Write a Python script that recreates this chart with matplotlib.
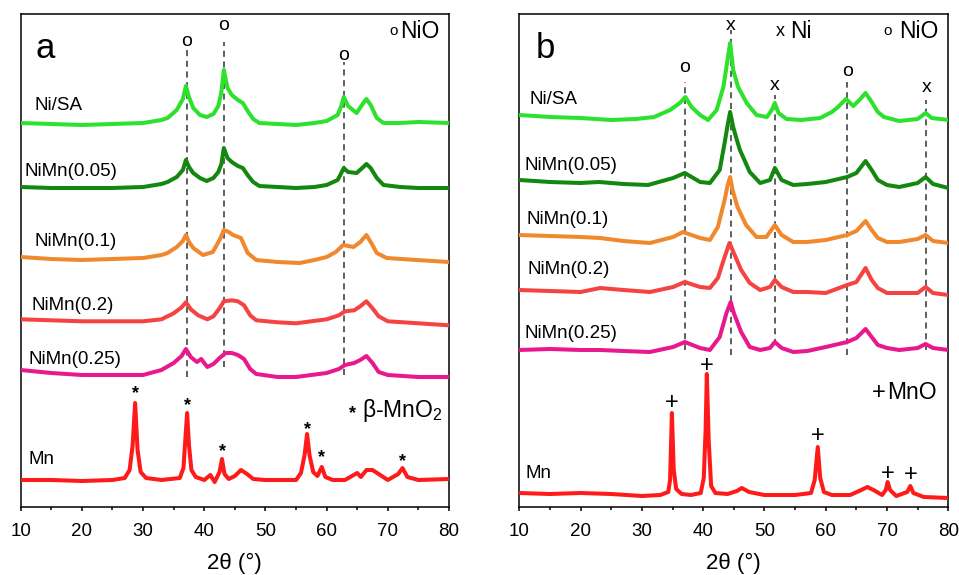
import matplotlib
matplotlib.use("Agg")
import matplotlib.pyplot as plt
import numpy as np
from matplotlib.ticker import MultipleLocator

plt.rcParams['font.family'] = ['Liberation Sans', 'DejaVu Sans']

# ---------------- data (2theta in degrees, intensity in a.u. above each pattern's baseline) -------------
labels = ["Ni/SA", "NiMn(0.05)", "NiMn(0.1)", "NiMn(0.2)", "NiMn(0.25)", "Mn"]

# panel a
a_nisa_x = [10, 15, 20, 25, 30, 33, 34, 35.5, 36.5, 37, 37.5, 38.2, 39.3, 40.4, 41.5, 42.3, 42.8, 43.2, 43.8, 44.5,
            45.5, 46.3, 47.2, 48, 49, 52, 55, 58, 60, 61.8, 62.4, 62.8, 63.5, 64.9, 66, 66.5, 67.2, 68.2, 69.3, 72, 75, 80]
a_nisa_y = [0, -1, -2, -1, 0, 3, 5, 13, 24, 37, 26, 15, 8, 6, 9, 17, 31, 53, 35, 28,
            23, 20, 11, 4, 0, -1, -2, 0, 2, 8, 17, 26, 17, 10, 20, 24, 18, 5, 0, 0, 1, 0]

a_005_x = a_nisa_x
a_005_y = [0, -1, -1, -1, 0, 3, 5, 10, 17, 27, 20, 14, 9, 6, 9, 15, 23, 39, 29, 25,
           21, 19, 11, 5, 1, 0, -1, 0, 2, 7, 14, 19, 15, 14, 20, 23, 19, 9, 2, 0, -1, -1]

a_01_x = [10, 15, 20, 25, 30, 33, 34, 35.5, 36.5, 37, 37.5, 38.2, 39.8, 41.4, 42.5, 43.2, 44, 44.7, 46, 47.1,
          48.5, 52, 55.6, 58, 60, 61.5, 62.7, 64.4, 65.5, 66.5, 67.3, 68.2, 69.8, 74.7, 80]
a_01_y = [0, -2, -3, -2, -1, 2, 4, 10, 16, 22, 15, 9, 2, 5, 17, 27, 25, 22, 19, 4,
          -3, -5, -6, -3, 0, 5, 12, 10, 15, 22, 14, 4, -1, -3, -5]

a_02_x = [10, 20, 30, 33, 35, 36.3, 37, 37.8, 39, 40.5, 41.5, 42.5, 43.2, 44.5, 45.5, 46.5, 47.5, 48.5, 52, 55,
          60, 62, 63, 64.5, 65.5, 66.5, 67.5, 68.5, 70, 75, 80]
a_02_y = [0, -2, -2, 0, 6, 12, 17, 10, 4, 0, 3, 11, 18, 19, 18, 14, 4, -1, -3, -4,
          0, 4, 8, 9, 13, 18, 11, 3, -2, -4, -6]

a_025_x = [10, 15, 20, 25, 30, 33, 35, 36.3, 37, 37.8, 38.8, 39.5, 40.5, 41.5, 42.5, 43.5, 44.5, 45.5, 46.5, 47.5,
           48.5, 52, 55, 60, 62, 63, 64.5, 65.5, 66.5, 67.5, 68.5, 70, 75, 80]
a_025_y = [0, -3, -5, -5, -5, 0, 7, 14, 21, 13, 8, 11, 3, 6, 12, 17, 17, 15, 11, 1,
           -4, -7, -7, -3, 1, 5, 7, 10, 14, 7, -2, -5, -7, -7]

a_mn_x = [10, 15, 20, 25, 27, 27.8, 28.3, 28.7, 29.1, 29.6, 30.5, 33, 36, 36.6, 36.9, 37.2, 37.5, 37.9, 38.6, 40,
          41, 41.7, 42.5, 42.9, 43.3, 44, 45, 46, 47, 48, 50, 55, 55.8, 56.4, 56.8, 57.2, 57.8, 58.5, 59.2, 59.8,
          61, 63, 65, 65.6, 66.5, 67.5, 68.5, 70, 71.7, 72.4, 73.2, 75, 80]
a_mn_y = [0, 0, -1, 0, 2, 10, 35, 77, 30, 8, 2, 0, 2, 12, 40, 67, 35, 10, 3, 0,
          5, -2, 8, 21, 6, 1, 4, 10, 6, 1, 0, 0, 7, 25, 46, 25, 8, 4, 13, 3,
          0, 0, 7, 3, 10, 10, 6, 0, 6, 12, 3, 0, 1]

# panel b
b_nisa_x = [10, 15, 20, 25, 29, 32, 34.6, 36.2, 37.1, 38.1, 39.5, 40.8, 42.2, 43.3, 43.9, 44.4, 44.9, 45.7, 47.1, 48.7,
            50.4, 51.2, 51.7, 52.3, 53.6, 56, 59.1, 61, 62, 63.3, 64.5, 65.5, 66.5, 67.5, 68.5, 69.5, 72, 75, 76.3, 77.3, 80]
b_nisa_y = [0, -2, -3, -5, -4, -2, 5, 12, 18, 8, 0, -5, 5, 28, 52, 72, 45, 28, 12, 0,
            -2, 5, 12, 2, -4, -5, -3, 3, 8, 16, 9, 15, 22, 13, 3, -2, -6, -4, 2, -3, -5]

b_005_x = [10, 15, 20, 23, 27, 31, 35.1, 37, 39.5, 41.1, 42.7, 43.5, 44.0, 44.4, 44.9, 45.5, 46.0, 47.6, 49.3, 50.9,
           51.7, 52.8, 54.7, 57, 60, 63.5, 65, 66.5, 67.5, 68.5, 70, 72, 75, 76.3, 77.5, 80]
b_005_y = [0, -2, -3, -2, -4, -5, 2, 7, -2, -3, 10, 37, 55, 68, 53, 40, 30, 8, -3, 0,
           12, 0, -5, -4, -2, 3, 7, 19, 10, 0, -5, -7, -3, 3, -4, -8]

b_01_x = [10, 15, 20, 23.2, 27, 31.3, 35.1, 36.7, 39.5, 41.1, 42.4, 43.5, 44.0, 44.4, 44.8, 45.6, 47.0, 48.7, 50.3, 51.7,
          52.8, 54.7, 57, 60, 63.5, 65, 66.5, 67.5, 68.5, 70, 72, 75, 76.3, 77.5, 80]
b_01_y = [0, -1, -2, -3, -6, -8, -2, 3, -3, -5, 8, 35, 50, 58, 45, 28, 10, -2, -2, 10,
          0, -7, -7, -5, 0, 4, 14, 5, -3, -7, -7, -4, 0, -6, -8]

b_02_x = [10, 15, 20, 23.2, 27, 31.3, 35.1, 37, 39.5, 41.1, 42.4, 43.5, 44.3, 45.0, 46.2, 47.6, 49.3, 50.9, 51.7, 52.8,
          54.7, 57, 60, 63.5, 65, 66.5, 67.5, 68.5, 70, 72, 75, 76.3, 77.5, 80]
b_02_y = [0, -1, -2, 2, 0, -2, 3, 8, 3, 2, 12, 33, 47, 37, 20, 7, 0, 3, 10, 3,
          -2, -2, -3, 5, 8, 22, 10, 2, -3, -3, -3, 3, -3, -5]

b_025_x = [10, 15, 20, 23.2, 27, 31.3, 35.1, 37, 39.5, 41.1, 42.7, 43.8, 44.5, 45.0, 46.2, 47.6, 49.3, 50.9, 51.7, 52.8,
           54.7, 57, 60, 63.5, 65, 66.5, 67.5, 68.5, 70, 72, 75, 76.3, 77.5, 80]
b_025_y = [0, 1, 0, 0, -1, -2, 3, 8, 2, 0, 13, 37, 48, 37, 18, 3, 0, 2, 8, 2,
           -2, -1, 3, 8, 12, 21, 13, 5, 2, 0, 2, 6, 2, 0]

b_mn_x = [10, 15, 20, 25, 30, 33, 34.3, 34.6, 34.9, 35.2, 35.6, 36.5, 38, 39.6, 40.1, 40.4, 40.6, 40.9, 41.3, 42,
          44, 45.5, 46.3, 47.5, 50, 55, 57.6, 58.2, 58.7, 59.1, 59.7, 61, 64, 65.8, 66.8, 67.8, 69.2, 69.8, 70.1, 70.5,
          71.5, 73.3, 73.8, 74.3, 76, 80]
b_mn_y = [0, -1, 0, -1, -3, -2, 1, 13, 80, 23, 4, -1, -2, 0, 15, 63, 119, 53, 7, 0,
          -1, 2, 5, 1, -2, -2, 0, 13, 46, 15, 1, -2, -2, 3, 6, 3, -2, 3, 11, 3,
          -3, 1, 7, 0, -4, -5]

# reference peak positions
a_nio_pos = [37.1, 43.2, 62.8]
a_mno2_pos = [28.7, 37.2, 42.9, 56.8, 59.2, 72.4]
b_nio_pos = [37.0, 63.5]
b_ni_pos = [44.5, 51.7, 76.4]
b_mno_pos = [34.9, 40.6, 58.7, 70.1, 73.8]

colors = ["#2de12d", "#13880f", "#f0882e", "#f54343", "#e8198c", "#ff1a1a"]

# ---------------- figure ----------------
W, H = 959, 575
fig = plt.figure(figsize=(W / 100, H / 100), dpi=100)
ax_a = fig.add_axes([20.7 / W, 68.3 / H, 428.3 / W, 492.7 / H])
ax_b = fig.add_axes([519.3 / W, 68.3 / H, 429.0 / W, 492.7 / H])

YMAX = 492.7
offsets_a = [383.7, 319.7, 249.7, 187.4, 136.7, 26.7]
offsets_b = [391.7, 326.7, 271.7, 216.7, 156.7, 13.7]

series_a = [(a_nisa_x, a_nisa_y), (a_005_x, a_005_y), (a_01_x, a_01_y),
            (a_02_x, a_02_y), (a_025_x, a_025_y), (a_mn_x, a_mn_y)]
series_b = [(b_nisa_x, b_nisa_y), (b_005_x, b_005_y), (b_01_x, b_01_y),
            (b_02_x, b_02_y), (b_025_x, b_025_y), (b_mn_x, b_mn_y)]

for ax in (ax_a, ax_b):
    ax.set_xlim(10, 80)
    ax.set_ylim(0, YMAX)
    ax.set_yticks([])
    ax.xaxis.set_major_locator(MultipleLocator(10))
    ax.xaxis.set_minor_locator(MultipleLocator(5))
    ax.tick_params(axis='x', which='major', direction='out', length=3, width=1.1,
                   labelsize=13.5, pad=9)
    ax.tick_params(axis='x', which='minor', direction='out', length=2.4, width=1.1)
    for s in ax.spines.values():
        s.set_linewidth(1.1)
    ax.set_xlabel("2θ (°)", fontsize=16, labelpad=9)

for ax, series, offs in ((ax_a, series_a, offsets_a), (ax_b, series_b, offsets_b)):
    for (x, y), off, c in zip(series, offs, colors):
        ax.plot(x, np.asarray(y) + off, color=c, lw=2.9, solid_joinstyle='round', zorder=3)

# curve labels
lab_pos_a = [(12.2, 401.7), (10.7, 334.7), (12.2, 265.7), (11.7, 201.7), (11.2, 146.7), (11.2, 47.7)]
lab_pos_b = [(11.7, 406.7), (10.9, 341.7), (11.2, 286.7), (11.4, 236.7), (10.8, 173.7), (11.0, 33.7)]
for ax, pos in ((ax_a, lab_pos_a), (ax_b, lab_pos_b)):
    for lab, (x, y) in zip(labels, pos):
        ax.text(x, y, lab, fontsize=13.5, ha='left', va='center', zorder=4)

# panel letters
ax_a.text(12.4, 457.7, "a", fontsize=25, ha='left', va='center')
ax_b.text(12.6, 457.7, "b", fontsize=25, ha='left', va='center')

dash = dict(color='#333333', lw=1.1, ls=(0, (4, 3)), zorder=2)
# panel a dashed guide lines and markers
a_line_spans = [(129.7, 458.7), (139.7, 464.7), (131.7, 444.7)]
a_mark_y = [465.7, 480.7, 451.7]
for p, (y0, y1), ym in zip(a_nio_pos, a_line_spans, a_mark_y):
    ax_a.plot([p, p], [y0, y1], **dash)
    ax_a.text(p, ym, "o", fontsize=14, ha='center', va='center')
ax_a.text(70.9, 476.0, "o", fontsize=11, ha='center', va='center')
ax_a.text(72.0, 474.7, "NiO", fontsize=16.5, ha='left', va='center')

a_star_y = [116.7, 104.7, 58.7, 80.7, 52.7, 48.7]
for p, ys in zip(a_mno2_pos, a_star_y):
    ax_a.text(p, ys - 4, "*", fontsize=13, ha='center', va='center', fontweight='bold')
ax_a.text(64.3, 92.7, "*", fontsize=13, ha='center', va='center', fontweight='bold')
ax_a.text(65.8, 96.7, r"β-MnO$_\mathregular{2}$", fontsize=16.5, ha='left', va='center')

# panel b dashed guide lines and markers
b_nio_spans = [(156.7, 424.7), (151.7, 424.7)]
b_nio_mark = [438.7, 434.7]
for p, (y0, y1), ym in zip(b_nio_pos, b_nio_spans, b_nio_mark):
    ax_b.plot([p, p], [y0, y1], **dash)
    ax_b.text(p, ym, "o", fontsize=14, ha='center', va='center')
b_ni_spans = [(151.7, 476.7), (161.7, 411.7), (156.7, 406.7)]
b_ni_mark = [481.7, 421.7, 418.7]
for p, (y0, y1), ym in zip(b_ni_pos, b_ni_spans, b_ni_mark):
    ax_b.plot([p, p], [y0, y1], **dash)
    ax_b.text(p, ym, "x", fontsize=14, ha='center', va='center')

ax_b.text(52.6, 475.5, "x", fontsize=13, ha='center', va='center')
ax_b.text(54.2, 474.7, "Ni", fontsize=16.5, ha='left', va='center')
ax_b.text(70.1, 476.0, "o", fontsize=11, ha='center', va='center')
ax_b.text(72.0, 474.7, "NiO", fontsize=16.5, ha='left', va='center')

b_plus_y = [103.7, 140.7, 70.7, 32.7, 31.7]
for p, yp in zip(b_mno_pos, b_plus_y):
    ax_b.text(p, yp, "+", fontsize=17, ha='center', va='center')
ax_b.text(68.6, 114.0, "+", fontsize=17, ha='center', va='center')
ax_b.text(70.0, 114.0, "MnO", fontsize=16.5, ha='left', va='center')

fig.savefig("out.png", dpi=100)
